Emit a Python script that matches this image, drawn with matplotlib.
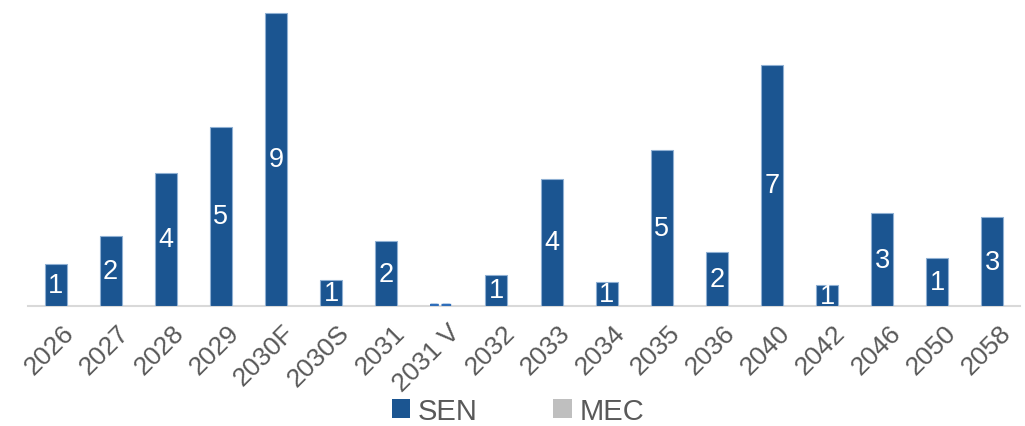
import matplotlib
matplotlib.use("Agg")
import matplotlib.pyplot as plt
import matplotlib.transforms as mtransforms
from matplotlib.patches import Patch

categories = ["2026", "2027", "2028", "2029", "2030F", "2030S", "2031", "2031 V",
              "2032", "2033", "2034", "2035", "2036", "2040", "2042", "2046", "2050", "2058"]
sen_values = [42, 70, 133, 179, 293, 26, 65, 0, 31, 127, 24, 156, 54, 241, 21, 93, 48, 89]
sen_labels = ["1", "2", "4", "5", "9", "1", "2", "", "1", "4", "1", "5", "2", "7", "1", "3", "1", "3"]
mec_values = [0] * len(categories)

plt.rcParams['font.family'] = ['Liberation Sans', 'DejaVu Sans']

fig = plt.figure(figsize=(10.25, 4.27), dpi=100)
ax = fig.add_axes([28 / 1025, 120 / 427, (1020 - 28) / 1025, 307 / 427])

bar_color = "#1B5591"
x = list(range(len(categories)))
bars = ax.bar(x, sen_values, width=0.4, color=bar_color, edgecolor="#8FB0D3", linewidth=0.8, zorder=3)
for b, v in zip(bars, sen_values):
    if v == 0:
        b.set_y(1.5)
        b.set_linestyle((0, (2.5, 1.2)))
        b.set_edgecolor("#2F6EBA")
        b.set_linewidth(2.4)
        b.set_zorder(5)
for b, lab in zip(bars, sen_labels):
    if lab:
        ax.text(b.get_x() + b.get_width() / 2, b.get_height() / 2, lab,
                ha="center", va="center", color="white", fontsize=19.5, zorder=4)

ax.set_xlim(-0.5, len(categories) - 0.5)
ax.set_ylim(0, 307)
ax.set_yticks([])
for s in ["top", "right", "left"]:
    ax.spines[s].set_visible(False)
ax.spines["bottom"].set_color("#D9D9D9")
ax.spines["bottom"].set_linewidth(1.5)
ax.set_xticks(x)
ax.set_xticklabels(categories, rotation=45, ha="right", rotation_mode="anchor",
                   fontsize=19, color="#595959")
ax.tick_params(axis="x", length=0, pad=7)
offset = mtransforms.ScaledTranslation(6 / 100, -4 / 100, fig.dpi_scale_trans)
for lbl in ax.get_xticklabels():
    lbl.set_transform(lbl.get_transform() + offset)

handles = [Patch(facecolor=bar_color, label="SEN"), Patch(facecolor="#BFBFBF", label="MEC")]
fig.legend(handles=handles, loc="center", bbox_to_anchor=(518 / 1025, 1 - 412 / 427),
           ncol=2, frameon=False, fontsize=21, handlelength=0.65, handleheight=0.65,
           handletextpad=0.25, columnspacing=2.6, labelcolor="#595959")

fig.savefig("out.png", dpi=100)
